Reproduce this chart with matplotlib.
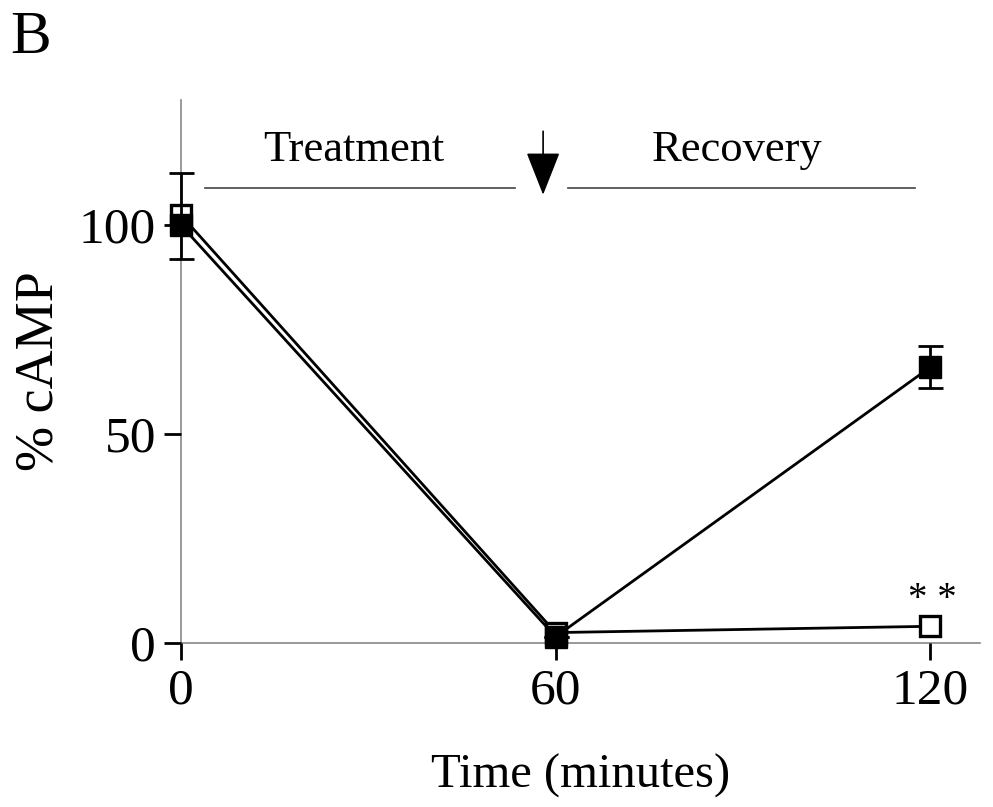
import matplotlib
matplotlib.use("Agg")
import matplotlib.pyplot as plt

plt.rcParams['font.family'] = ['Liberation Serif', 'DejaVu Serif']

time = [0, 60, 120]
filled_vals = [100, 1.5, 66]
filled_err_low = [8, 0, 5]
filled_err_high = [12.5, 0, 5]
open_vals = [102.4, 2.5, 4]
xticks = [0, 60, 120]
yticks = [0, 50, 100]

fig = plt.figure(figsize=(9.93, 8.07), dpi=100)
ax = fig.add_axes([0.1823, 0.2032, 0.8047, 0.673])

(line_o,) = ax.plot(time, open_vals, color='black', marker='s',
                    markersize=15, markerfacecolor='white', markeredgecolor='black',
                    markeredgewidth=2.4, linewidth=2, zorder=3)
eb = ax.errorbar(time, filled_vals, yerr=[filled_err_low, filled_err_high],
                 color='black', marker='s', markersize=16,
                 markerfacecolor='black', markeredgecolor='black',
                 linewidth=2, elinewidth=2, capsize=9, capthick=2, zorder=4)
for art in [eb.lines[0], *eb.lines[1], *eb.lines[2], line_o]:
    art.set_clip_on(False)

ax.set_xlim(0, 128)
ax.set_ylim(0, 130)
ax.set_xticks(xticks)
ax.set_yticks(yticks)
ax.tick_params(axis='both', labelsize=37, width=2, length=12, color='black', pad=6)
for side in ['top', 'right']:
    ax.spines[side].set_visible(False)
for side in ['left', 'bottom']:
    ax.spines[side].set_color('#888888')
    ax.spines[side].set_linewidth(1.2)
    ax.spines[side].set_zorder(1)

ax.set_xlabel('Time (minutes)', fontsize=35, labelpad=28)
ax.set_ylabel('% cAMP', fontsize=39, labelpad=10)

# phase annotation
ax.plot([3.8, 53.5], [109, 109], color='#444444', linewidth=1.2, clip_on=False)
ax.plot([62, 117.6], [109, 109], color='#444444', linewidth=1.2, clip_on=False)
ax.text(27.6, 118, 'Treatment', fontsize=32, ha='center', va='center')
ax.text(89, 118, 'Recovery', fontsize=32, ha='center', va='center')
ax.annotate('', xy=(58, 107.3), xytext=(58, 122.5),
            arrowprops=dict(arrowstyle='-|>,head_length=1.37,head_width=0.54',
                            mutation_scale=20, color='black', lw=1.2,
                            shrinkA=0, shrinkB=0))
ax.text(120.3, 10.3, '* *', fontsize=28, ha='center', va='center')

fig.text(0.01, 0.952, 'B', fontsize=44, ha='left', va='center')

fig.savefig('out.png', dpi=100)
